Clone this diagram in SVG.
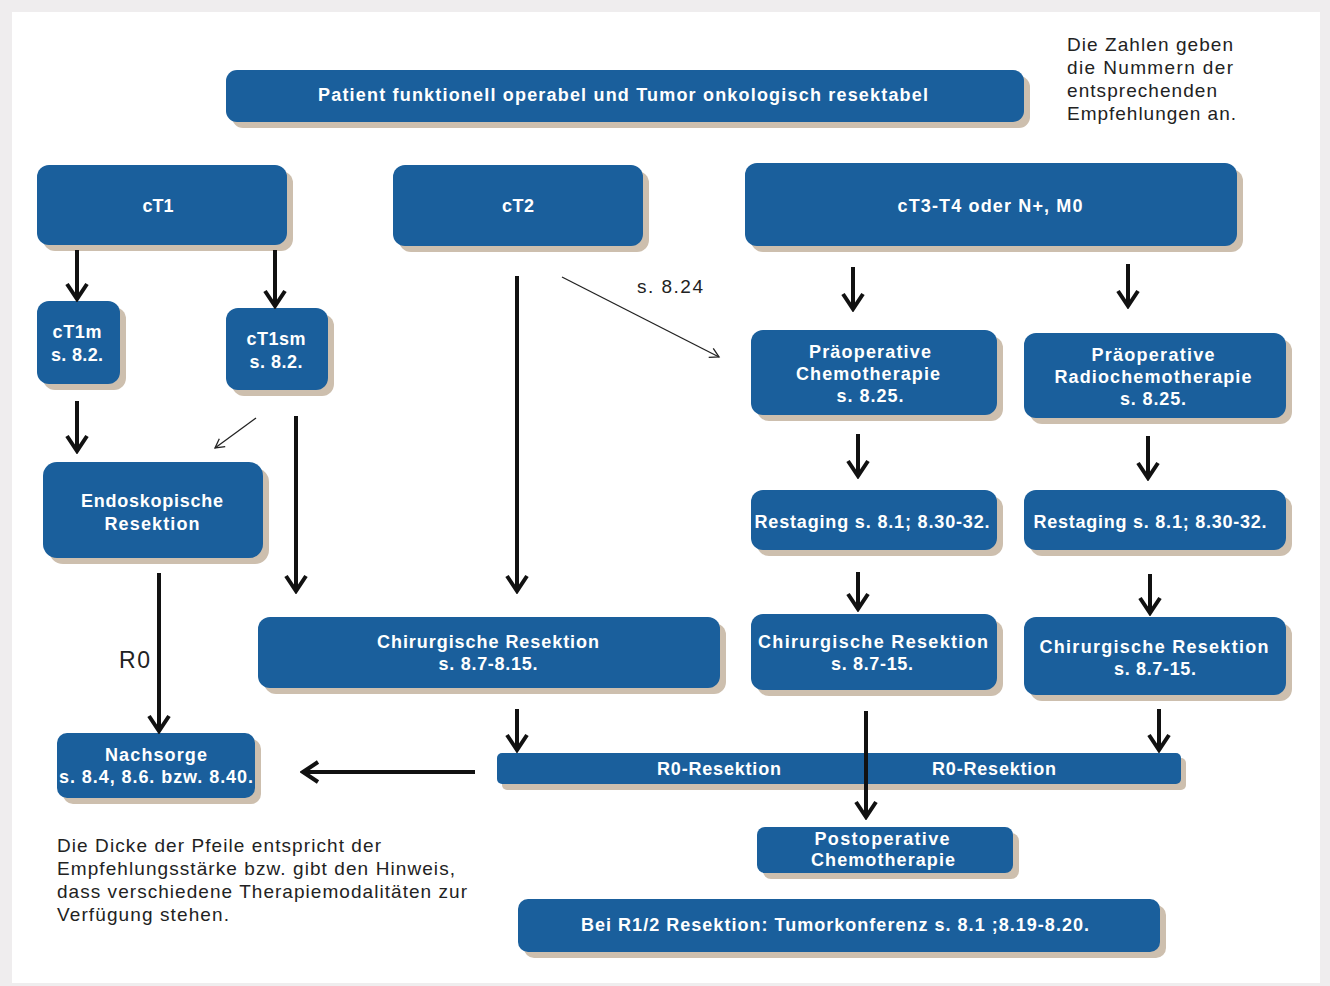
<svg xmlns="http://www.w3.org/2000/svg" width="1330" height="986" viewBox="0 0 1330 986">
<style>
.sh{fill:#cdbfae}
.bx{fill:#1a5f9c}
.t{font-family:"Liberation Sans",Arial,sans-serif;font-weight:bold;font-size:18px;fill:#ffffff;text-anchor:middle}
.n{font-family:"Liberation Sans",Arial,sans-serif;font-size:19px;fill:#222222}
.a{stroke:#111111;stroke-width:4;fill:none}
.f{stroke:#222222;stroke-width:1.3;fill:none}
</style>
<defs>
<marker id="ah" markerUnits="userSpaceOnUse" viewBox="0 0 24 24" markerWidth="24" markerHeight="24" refX="21" refY="12" orient="auto">
<path d="M6,2 L21,12 L6,22" stroke="#111111" stroke-width="4" fill="none"/>
</marker>
<marker id="ahs" markerUnits="userSpaceOnUse" viewBox="0 0 14 14" markerWidth="14" markerHeight="14" refX="12" refY="7" orient="auto">
<path d="M3,2 L12,7 L3,12" stroke="#222222" stroke-width="1.3" fill="none"/>
</marker>
</defs>
<rect x="0" y="0" width="1330" height="986" fill="#efedee"/>
<rect x="12" y="12" width="1308" height="971" fill="#ffffff"/>

<g id="top">
<rect class="sh" x="232" y="76" width="798" height="52" rx="11"/>
<rect class="bx" x="226" y="70" width="798" height="52" rx="11"/>
<text class="t" x="623" y="101" textLength="610">Patient funktionell operabel und Tumor onkologisch resektabel</text>
</g>

<g id="note1" class="n">
<text x="1067" y="51" textLength="166">Die Zahlen geben</text>
<text x="1067" y="74" textLength="166">die Nummern der</text>
<text x="1067" y="97" textLength="150">entsprechenden</text>
<text x="1067" y="120" textLength="169">Empfehlungen an.</text>
</g>

<g id="ct1">
<rect class="sh" x="43" y="171" width="250" height="80" rx="12"/>
<rect class="bx" x="37" y="165" width="250" height="80" rx="12"/>
<text class="t" x="158" y="212" textLength="31">cT1</text>
</g>
<g id="ct2">
<rect class="sh" x="399" y="171" width="250" height="81" rx="12"/>
<rect class="bx" x="393" y="165" width="250" height="81" rx="12"/>
<text class="t" x="518" y="212" textLength="32">cT2</text>
</g>
<g id="ct3">
<rect class="sh" x="751" y="169" width="492" height="83" rx="12"/>
<rect class="bx" x="745" y="163" width="492" height="83" rx="12"/>
<text class="t" x="990" y="212" textLength="185">cT3-T4 oder N+, M0</text>
</g>

<g id="ct1m">
<rect class="sh" x="43" y="307" width="83" height="83" rx="12"/>
<rect class="bx" x="37" y="301" width="83" height="83" rx="12"/>
<text class="t" x="77" y="338" textLength="49">cT1m</text>
<text class="t" x="77" y="361" textLength="52">s. 8.2.</text>
</g>
<g id="ct1sm">
<rect class="sh" x="232" y="314" width="102" height="82" rx="12"/>
<rect class="bx" x="226" y="308" width="102" height="82" rx="12"/>
<text class="t" x="276" y="345" textLength="59">cT1sm</text>
<text class="t" x="276" y="368" textLength="53">s. 8.2.</text>
</g>
<g id="endo">
<rect class="sh" x="49" y="468" width="220" height="96" rx="14"/>
<rect class="bx" x="43" y="462" width="220" height="96" rx="14"/>
<text class="t" x="152" y="507" textLength="142">Endoskopische</text>
<text class="t" x="152" y="530" textLength="95">Resektion</text>
</g>
<g id="nachsorge">
<rect class="sh" x="63" y="739" width="198" height="65" rx="10"/>
<rect class="bx" x="57" y="733" width="198" height="65" rx="10"/>
<text class="t" x="156" y="761" textLength="102">Nachsorge</text>
<text class="t" x="156" y="783" textLength="194">s. 8.4, 8.6. bzw. 8.40.</text>
</g>

<g id="chir1">
<rect class="sh" x="264" y="623" width="462" height="71" rx="12"/>
<rect class="bx" x="258" y="617" width="462" height="71" rx="12"/>
<text class="t" x="488" y="648" textLength="222">Chirurgische  Resektion</text>
<text class="t" x="488" y="670" textLength="99">s. 8.7-8.15.</text>
</g>

<g id="praechemo">
<rect class="sh" x="757" y="336" width="246" height="85" rx="12"/>
<rect class="bx" x="751" y="330" width="246" height="85" rx="12"/>
<text class="t" x="870" y="358" textLength="122">Präoperative</text>
<text class="t" x="868" y="380" textLength="144">Chemotherapie</text>
<text class="t" x="870" y="402" textLength="67">s. 8.25.</text>
</g>
<g id="praeradio">
<rect class="sh" x="1030" y="339" width="262" height="85" rx="12"/>
<rect class="bx" x="1024" y="333" width="262" height="85" rx="12"/>
<text class="t" x="1153" y="361" textLength="123">Präoperative</text>
<text class="t" x="1153" y="383" textLength="197">Radiochemotherapie</text>
<text class="t" x="1153" y="405" textLength="66">s. 8.25.</text>
</g>

<g id="restage1">
<rect class="sh" x="757" y="496" width="246" height="60" rx="12"/>
<rect class="bx" x="751" y="490" width="246" height="60" rx="12"/>
<text class="t" x="872" y="528" textLength="235">Restaging s. 8.1; 8.30-32.</text>
</g>
<g id="restage2">
<rect class="sh" x="1030" y="496" width="262" height="60" rx="12"/>
<rect class="bx" x="1024" y="490" width="262" height="60" rx="12"/>
<text class="t" x="1150" y="528" textLength="233">Restaging s. 8.1; 8.30-32.</text>
</g>

<g id="chir2">
<rect class="sh" x="757" y="620" width="246" height="76" rx="12"/>
<rect class="bx" x="751" y="614" width="246" height="76" rx="12"/>
<text class="t" x="873" y="648" textLength="230">Chirurgische  Resektion</text>
<text class="t" x="872" y="670" textLength="82">s. 8.7-15.</text>
</g>
<g id="chir3">
<rect class="sh" x="1030" y="623" width="262" height="78" rx="12"/>
<rect class="bx" x="1024" y="617" width="262" height="78" rx="12"/>
<text class="t" x="1154" y="653" textLength="229">Chirurgische  Resektion</text>
<text class="t" x="1155" y="675" textLength="82">s. 8.7-15.</text>
</g>

<g id="r0bar">
<rect class="sh" x="502" y="758" width="684" height="32" rx="5"/>
<rect class="bx" x="497" y="753" width="684" height="31" rx="5"/>
<text class="t" x="719" y="775" textLength="124">R0-Resektion</text>
<text class="t" x="994" y="775" textLength="124">R0-Resektion</text>
</g>

<g id="postchemo">
<rect class="sh" x="763" y="833" width="256" height="46" rx="8"/>
<rect class="bx" x="757" y="827" width="256" height="46" rx="8"/>
<text class="t" x="882" y="845" textLength="135">Postoperative</text>
<text class="t" x="883" y="866" textLength="144">Chemotherapie</text>
</g>

<g id="r12">
<rect class="sh" x="524" y="905" width="642" height="53" rx="10"/>
<rect class="bx" x="518" y="899" width="642" height="53" rx="10"/>
<text class="t" x="835" y="931" textLength="508">Bei R1/2 Resektion: Tumorkonferenz  s. 8.1 ;8.19-8.20.</text>
</g>

<g id="note2" class="n">
<text x="57" y="852" textLength="324">Die Dicke der Pfeile entspricht der</text>
<text x="57" y="875" textLength="398">Empfehlungsstärke  bzw. gibt den Hinweis,</text>
<text x="57" y="898" textLength="410">dass verschiedene Therapiemodalitäten  zur</text>
<text x="57" y="921" textLength="172">Verfügung stehen.</text>
</g>

<g id="connectors">
<line class="a" x1="77" y1="250" x2="77" y2="299" marker-end="url(#ah)"/>
<line class="a" x1="275" y1="250" x2="275" y2="306" marker-end="url(#ah)"/>
<line class="a" x1="77" y1="401" x2="77" y2="451" marker-end="url(#ah)"/>
<line class="f" x1="256" y1="418" x2="215" y2="448" marker-end="url(#ahs)"/>
<line class="a" x1="296" y1="416" x2="296" y2="591" marker-end="url(#ah)"/>
<line class="a" x1="159" y1="573" x2="159" y2="731" marker-end="url(#ah)"/>
<line class="a" x1="475" y1="772" x2="303" y2="772" marker-end="url(#ah)"/>
<line class="a" x1="517" y1="276" x2="517" y2="591" marker-end="url(#ah)"/>
<line class="f" x1="562" y1="277" x2="719" y2="357" marker-end="url(#ahs)"/>
<line class="a" x1="853" y1="267" x2="853" y2="309" marker-end="url(#ah)"/>
<line class="a" x1="1128" y1="264" x2="1128" y2="306" marker-end="url(#ah)"/>
<line class="a" x1="858" y1="434" x2="858" y2="476" marker-end="url(#ah)"/>
<line class="a" x1="1148" y1="436" x2="1148" y2="478" marker-end="url(#ah)"/>
<line class="a" x1="858" y1="572" x2="858" y2="609" marker-end="url(#ah)"/>
<line class="a" x1="1150" y1="574" x2="1150" y2="613" marker-end="url(#ah)"/>
<line class="a" x1="517" y1="709" x2="517" y2="750" marker-end="url(#ah)"/>
<line class="a" x1="1159" y1="709" x2="1159" y2="750" marker-end="url(#ah)"/>
<line class="a" x1="866" y1="711" x2="866" y2="817" marker-end="url(#ah)"/>
<text x="119" y="668" font-family="Liberation Sans, Arial, sans-serif" font-size="23" fill="#222222" textLength="31">R0</text>
<text x="637" y="293" font-family="Liberation Sans, Arial, sans-serif" font-size="19" fill="#222222" textLength="66">s. 8.24</text>
</g>
</svg>
